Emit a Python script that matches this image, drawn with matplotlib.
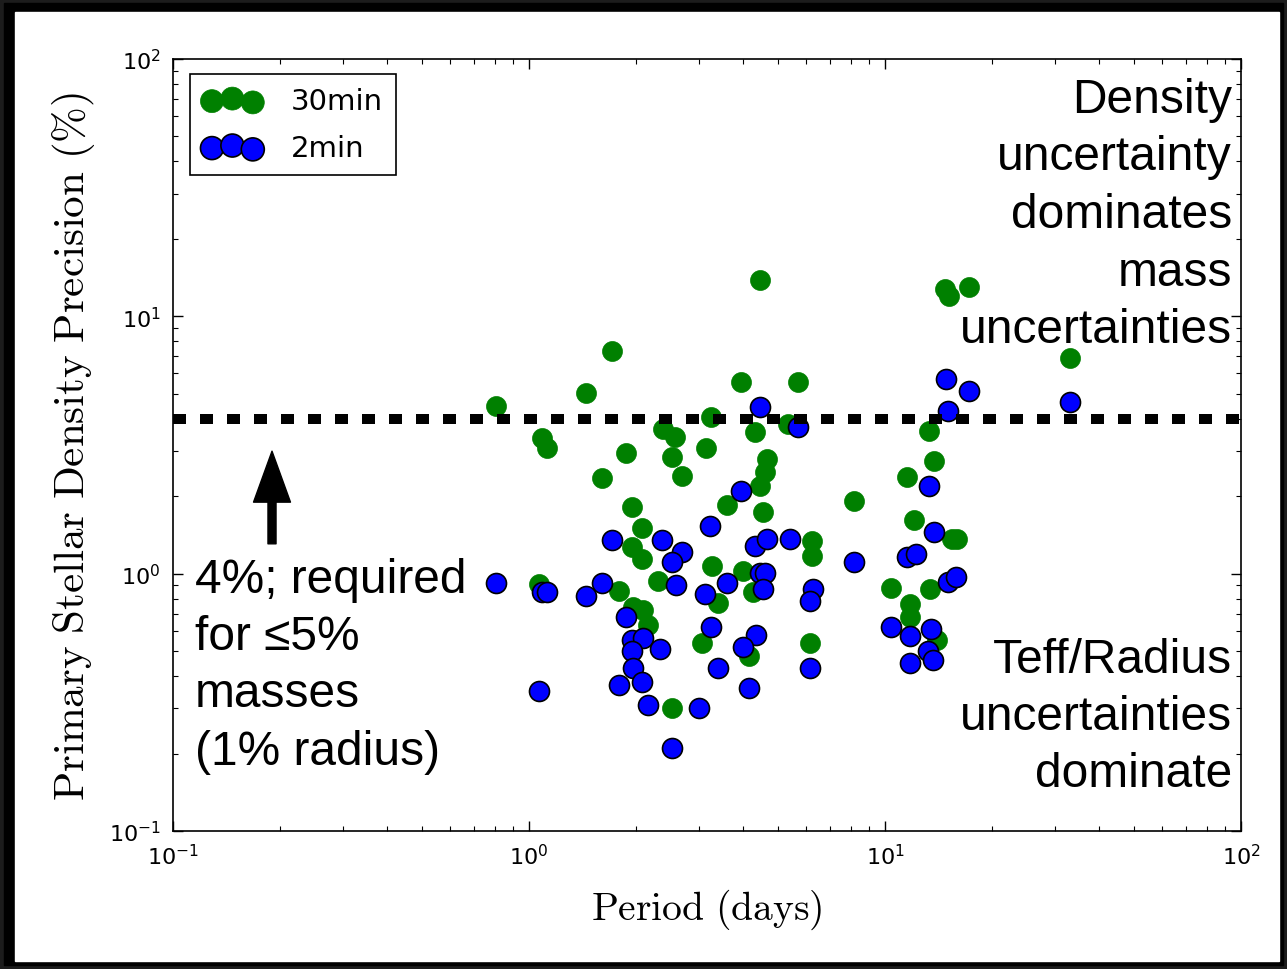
import numpy as np
import matplotlib.pyplot as plt
from matplotlib.patches import Rectangle

# 30-minute cadence targets: orbital period (days), density precision (%)
p30_period = [0.81, 1.09, 1.12, 1.07, 1.45, 1.60, 1.71, 1.87, 1.95, 2.08,
              1.95, 2.08, 1.79, 1.96, 2.09, 2.16, 2.52, 2.38, 2.57, 2.52,
              2.69, 2.30, 3.25, 3.14, 3.27, 3.06, 3.60, 3.94, 4.32, 4.66,
              4.60, 4.46, 4.54, 3.99, 4.26, 3.40, 4.15, 5.34, 5.70, 6.24,
              6.24, 6.15, 8.18, 4.46, 11.5, 12.1, 10.4, 11.75, 11.75, 14.0,
              13.3, 13.7, 15.4, 15.9, 13.4, 14.7, 15.1, 17.2, 33.1]
p30_prec = [4.48, 3.37, 3.08, 0.91, 5.03, 2.35, 7.33, 2.94, 1.82, 1.50,
            1.27, 1.14, 0.86, 0.74, 0.72, 0.63, 0.30, 3.65, 3.40, 2.84,
            2.39, 0.94, 4.06, 3.08, 1.07, 0.54, 1.85, 5.55, 3.55, 2.79,
            2.48, 2.19, 1.74, 1.02, 0.85, 0.77, 0.48, 3.81, 5.55, 1.34,
            1.17, 0.54, 1.92, 13.8, 2.37, 1.62, 0.88, 0.76, 0.68, 0.55,
            3.58, 2.74, 1.36, 1.36, 0.87, 12.8, 12.0, 13.0, 6.88]

# 2-minute cadence targets
p2_period = [0.81, 1.09, 1.12, 1.07, 1.45, 1.60, 1.71, 1.87, 1.95, 2.09,
             1.95, 2.33, 1.96, 1.79, 2.08, 2.16, 3.00, 2.52, 2.36, 2.69,
             2.52, 2.59, 3.22, 3.12, 3.25, 3.94, 4.46, 5.70, 4.32, 4.66,
             5.41, 3.60, 4.46, 4.60, 4.54, 4.34, 3.99, 3.40, 4.15, 6.28,
             6.15, 6.15, 8.18, 11.5, 12.2, 10.4, 11.75, 11.75, 13.5, 13.2,
             13.6, 15.0, 15.8, 14.8, 17.2, 15.0, 13.3, 13.7, 33.1]
p2_prec = [0.92, 0.85, 0.85, 0.35, 0.82, 0.92, 1.35, 0.68, 0.55, 0.56,
           0.50, 0.51, 0.43, 0.37, 0.38, 0.31, 0.30, 0.21, 1.35, 1.21,
           1.11, 0.90, 1.53, 0.83, 0.62, 2.09, 4.44, 3.71, 1.28, 1.36,
           1.36, 0.92, 1.01, 1.01, 0.87, 0.58, 0.52, 0.43, 0.36, 0.87,
           0.78, 0.43, 1.11, 1.16, 1.19, 0.62, 0.57, 0.45, 0.61, 0.50,
           0.46, 0.93, 0.97, 5.71, 5.12, 4.28, 2.19, 1.45, 4.64]

required_prec = 4.0  # % needed for <=5% masses

plt.rcParams['axes.unicode_minus'] = False

fig = plt.figure(figsize=(12.87, 9.70), dpi=100, facecolor='#1c1c1c')
# dark frame round the white page
fig.patches.append(Rectangle((4/1287, 4/970), 1 - 8/1287, 1 - 8/970,
                             transform=fig.transFigure, color='black', zorder=-2))
fig.patches.append(Rectangle((15/1287, 8/970), 1 - 23/1287, 1 - 21/970,
                             transform=fig.transFigure, color='white', zorder=-1))

ax = fig.add_axes([173/1287, 1 - 832/970, 1068/1287, 772/970])

ax.scatter(p30_period, p30_prec, s=207, c='g', edgecolors='g', linewidths=0.5,
           label='30min', zorder=2)
ax.scatter(p2_period, p2_prec, s=207, c='b', edgecolors='k', linewidths=1.2,
           label='2min', zorder=2)
ax.axhline(required_prec, color='k', lw=7.2, ls=(0, (1.3, 1.4)),
           dash_capstyle='butt', zorder=3)

ax.set_xscale('log')
ax.set_yscale('log')
ax.set_xlim(0.1, 100)
ax.set_ylim(0.1, 100)

ax.tick_params(which='both', direction='in', top=True, right=True,
               labelsize=16, pad=9)
ax.tick_params(which='major', length=7, width=1)
ax.tick_params(which='minor', length=3.5, width=0.8)
for sp in ax.spines.values():
    sp.set_linewidth(1.2)

ax.set_xlabel(r'$\mathrm{Period\ (days)}$', fontsize=28.5, math_fontfamily='cm',
              labelpad=13)
ax.set_ylabel(r'$\mathrm{Primary\ Stellar\ Density\ Precision\ (\%)}$',
              fontsize=31, math_fontfamily='cm', labelpad=8)

leg = ax.legend(loc='upper left', bbox_to_anchor=(0.016, 0.981), borderaxespad=0,
                fontsize=21, scatterpoints=3, markerscale=1.15, fancybox=False,
                edgecolor='k', framealpha=1, handlelength=2.0, handletextpad=1.0,
                labelspacing=0.65, borderpad=0.45)
leg.get_frame().set_linewidth(1.2)

txt = dict(family='Liberation Sans', fontsize=34.5, color='k')
ax.text(0.9916, 0.977, 'Density\nuncertainty\ndominates\nmass\nuncertainties',
        transform=ax.transAxes, ha='right', va='top', multialignment='right',
        linespacing=1.36, **txt)
ax.text(0.9916, 0.045, 'Teff/Radius\nuncertainties\ndominate',
        transform=ax.transAxes, ha='right', va='bottom', multialignment='right',
        linespacing=1.35, **txt)
ax.text(0.0206, 0.355, '4%; required\nfor \u22645%\nmasses\n(1% radius)',
        transform=ax.transAxes, ha='left', va='top', linespacing=1.35, **txt)

# arrow pointing up at the 4% line
ax.annotate('', xy=(0.0927, 0.492), xytext=(0.0927, 0.372),
            xycoords='axes fraction', textcoords='axes fraction',
            arrowprops=dict(facecolor='k', edgecolor='k', width=5.8,
                            headwidth=26.6, headlength=36.7, shrink=0))

fig.savefig('out.png', dpi=100, facecolor=fig.get_facecolor())
